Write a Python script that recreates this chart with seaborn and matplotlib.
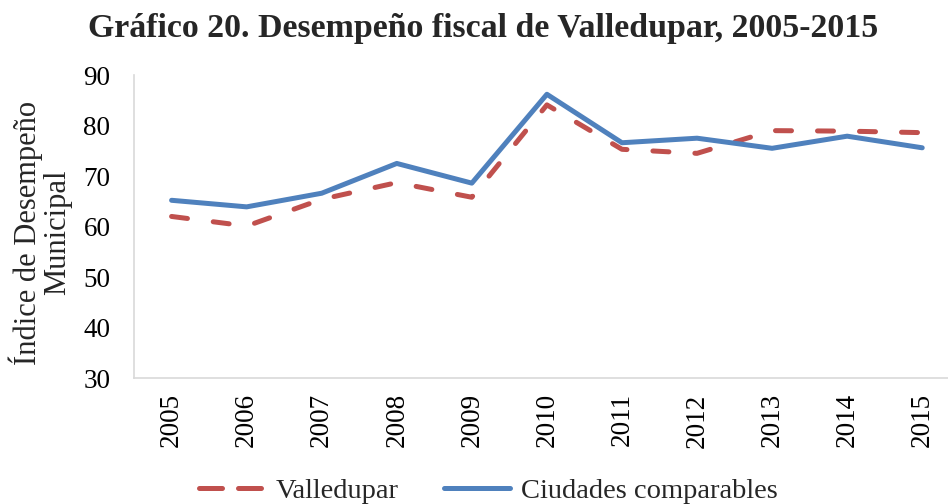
import pandas as pd
import matplotlib.pyplot as plt
import seaborn as sns
from matplotlib.lines import Line2D

# datos
years = [2005, 2006, 2007, 2008, 2009, 2010, 2011, 2012, 2013, 2014, 2015]
valledupar = [62.0, 60.1, 65.4, 68.7, 65.8, 84.1, 75.3, 74.5, 79.0, 78.9, 78.6]
comparables = [65.2, 63.9, 66.6, 72.5, 68.6, 86.2, 76.6, 77.5, 75.5, 77.9, 75.6]
series_names = ['Valledupar', 'Ciudades comparables']
colors = ['#C0504D', '#4F81BD']

sns.set_style("white")
plt.rcParams['font.family'] = ['Liberation Serif', 'DejaVu Serif']

df = pd.DataFrame({
    'pos': list(range(len(years))) * 2,
    'valor': valledupar + comparables,
    'serie': [series_names[0]] * len(years) + [series_names[1]] * len(years),
})

fig = plt.figure(figsize=(9.48, 5.04), dpi=100)
ax = fig.add_axes([0.1414, 0.25, 0.871, 0.601])

sns.lineplot(data=df, x='pos', y='valor', hue='serie', style='serie',
             palette=colors, dashes=[(3.2, 5.2), ''], linewidth=3.6,
             ax=ax, legend=False)
for ln in ax.get_lines():
    ln.set_dash_capstyle('round')
    ln.set_solid_capstyle('round')

ax.set_xlim(-0.5, len(years) - 0.5)
ax.set_ylim(30, 90)
ax.set_yticks(range(30, 91, 10))
ax.set_xticks(range(len(years)))
ax.set_xticklabels([str(y) for y in years], rotation=90)
ax.tick_params(axis='both', length=0, labelsize=19.5, colors='black')
ax.tick_params(axis='y', pad=17)
ax.tick_params(axis='x', pad=11)
ax.set_xlabel('')
ax.set_ylabel('Índice de Desempeño\nMunicipal', fontsize=22, linespacing=1.0)
ax.yaxis.set_label_coords(-0.075, 0.48)

for s in ['top', 'right']:
    ax.spines[s].set_visible(False)
for s in ['left', 'bottom']:
    ax.spines[s].set_color('#D9D9D9')
    ax.spines[s].set_linewidth(1.2)

# en la leyenda los trazos son más largos que en la serie
h_valle = Line2D([], [], color=colors[0], lw=3.6, dashes=(4.6, 3.2),
                 dash_capstyle='round')
h_comp = Line2D([], [], color=colors[1], lw=3.6, solid_capstyle='round')
fig.legend([h_valle, h_comp], series_names, loc='center', bbox_to_anchor=(0.515, 0.026),
           ncol=2, frameon=False, fontsize=20.5, handlelength=2.3,
           columnspacing=1.6, handletextpad=0.4, borderpad=0)

fig.suptitle('Gráfico 20. Desempeño fiscal de Valledupar, 2005-2015',
             fontsize=24.4, fontweight='bold', x=0.51, y=0.975)

plt.savefig('out.png', dpi=100)
